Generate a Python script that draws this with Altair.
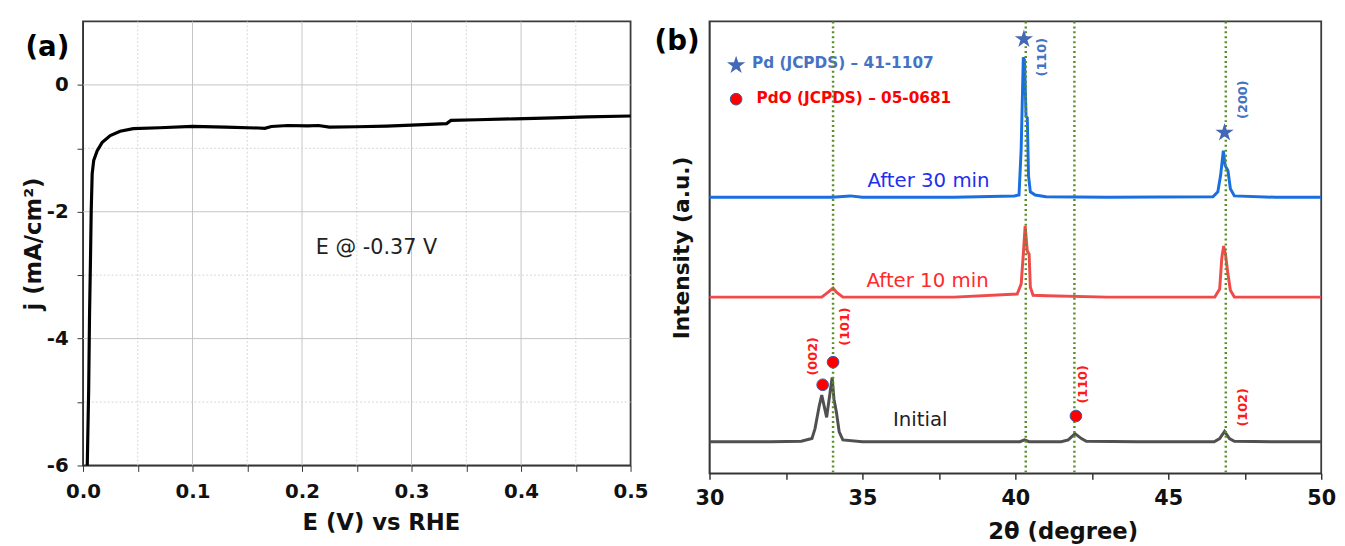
import altair as alt
import pandas as pd

# ---------------- Panel (a): current density vs potential ----------------
E_V = [0.0039, 0.0052, 0.0060, 0.0068, 0.0075, 0.0084, 0.0098, 0.0129, 0.0174, 0.0249,
       0.0339, 0.0459, 0.070, 0.100, 0.130, 0.160, 0.166, 0.172, 0.187, 0.205,
       0.215, 0.225, 0.250, 0.277, 0.300, 0.332, 0.336, 0.360, 0.394, 0.430, 0.460, 0.500]
J_mA = [-6.0, -4.8, -3.6, -2.8, -2.0, -1.4, -1.19, -1.04, -0.91, -0.80,
        -0.73, -0.69, -0.675, -0.655, -0.665, -0.68, -0.685, -0.655, -0.64, -0.645,
        -0.64, -0.665, -0.66, -0.65, -0.635, -0.61, -0.56, -0.55, -0.535, -0.52, -0.505, -0.49]

x_ticks_a = [0.0, 0.05, 0.1, 0.15, 0.2, 0.25, 0.3, 0.35, 0.4, 0.45, 0.5]
x_major_a = [0.1, 0.2, 0.3, 0.4]
x_minor_a = [0.05, 0.15, 0.25, 0.35, 0.45]
y_ticks_a = [-6, -5, -4, -3, -2, -1, 0]
y_major_a = [-4, -2, 0]
y_minor_a = [-5, -3, -1]

# ---------------- Panel (b): XRD patterns ----------------
tt_initial = [30.0, 32.0, 33.0, 33.35, 33.45, 33.59, 33.67, 33.83, 34.01, 34.07, 34.15, 34.24,
              34.36, 35.0, 38.0, 40.15, 40.3, 40.45, 41.5, 41.73, 41.95, 42.16, 42.32, 44.0,
              46.5, 46.68, 46.84, 47.0, 47.16, 48.5, 50.0]
int_initial = [7.0, 7.0, 7.1, 7.7, 9.9, 15.0, 17.3, 12.4, 21.2, 16.4, 13.5, 9.2,
               7.4, 7.0, 7.0, 7.0, 7.4, 7.0, 7.0, 7.4, 8.8, 7.7, 7.1, 7.0,
               7.0, 7.7, 9.3, 7.7, 7.1, 7.0, 7.0]

tt_10 = [30.0, 32.0, 33.67, 33.88, 34.04, 34.15, 34.36, 36.0, 38.0, 40.06, 40.19, 40.26,
         40.32, 40.39, 40.45, 40.49, 40.58, 41.03, 43.0, 46.52, 46.68, 46.75, 46.81, 46.87,
         46.95, 47.03, 47.16, 48.5, 50.0]
int_10 = [39.0, 39.0, 39.0, 40.1, 41.0, 40.1, 39.0, 39.0, 39.0, 39.7, 41.9, 48.5,
          54.7, 49.2, 48.5, 41.2, 39.4, 39.3, 39.0, 39.0, 40.8, 47.7, 50.3, 48.5,
          44.1, 40.5, 39.0, 39.0, 39.0]

tt_30 = [30.0, 32.0, 34.0, 34.6, 35.0, 38.0, 39.96, 40.12, 40.19, 40.26, 40.30, 40.35,
         40.39, 40.43, 40.49, 40.65, 41.0, 43.0, 46.46, 46.62, 46.71, 46.80, 46.86, 46.95,
         47.03, 47.16, 48.5, 50.0]
int_30 = [61.1, 61.1, 61.1, 61.4, 61.1, 61.1, 61.4, 61.6, 71.8, 92.1, 91.4, 79.0,
          78.7, 65.9, 62.3, 61.6, 61.2, 61.1, 61.2, 62.3, 65.9, 71.4, 68.1, 67.0,
          63.0, 61.4, 61.1, 61.1]

x_ticks_b = [30, 32.5, 35, 37.5, 40, 42.5, 45, 47.5, 50]
ref_lines = [34.04, 40.34, 41.93, 46.88]

pd_star_tt = [40.28, 46.84, 30.87]
pd_star_int = [96.1, 75.4, 90.3]
pdo_tt = [33.70, 34.04, 41.98, 30.87]
pdo_int = [19.6, 24.6, 12.7, 82.8]

pd_hkl = ["(110)", "(200)"]
pd_hkl_tt = [40.87, 47.43]
pd_hkl_int = [92.1, 82.7]
pdo_hkl = ["(002)", "(101)", "(110)", "(102)"]
pdo_hkl_tt = [33.40, 34.44, 42.22, 47.43]
pdo_hkl_int = [25.9, 32.5, 19.7, 14.6]

FONT = "DejaVu Sans"
# five-pointed star symbol in Vega's unit box (-1..1)
STAR = ("M0,-1L0.2245,-0.309L0.951,-0.309L0.363,0.118L0.588,0.809L0,0.382"
        "L-0.588,0.809L-0.363,0.118L-0.951,-0.309L-0.2245,-0.309Z")

# ================= Panel (a) encodings =================
xa = alt.X(
    "E:Q",
    scale=alt.Scale(domain=[0, 0.5], nice=False, zero=False),
    axis=alt.Axis(
        title="E (V) vs RHE", values=x_ticks_a, titleX=302,
        labelExpr="abs(datum.value*10 - round(datum.value*10)) < 0.001 ? format(datum.value, '.1f') : ''",
        grid=False, tickSize=6, labelPadding=10, titlePadding=11, labelFlush=False,
        domainColor="#333", tickColor="#333",
        labelFont=FONT, labelFontWeight="bold", labelFontSize=20, labelColor="#111",
        titleFont=FONT, titleFontWeight="bold", titleFontSize=23, titleColor="#111",
    ),
)
ya = alt.Y(
    "j:Q",
    scale=alt.Scale(domain=[-6, 1], nice=False, zero=False),
    axis=alt.Axis(
        title="j (mA/cm\u00b2)", values=y_ticks_a,
        labelExpr="datum.value % 2 == 0 ? (datum.value < 0 ? '-' + (-datum.value) : '' + datum.value) : ''",
        grid=False, tickSize=6, labelPadding=9, titlePadding=1,
        domainColor="#333", tickColor="#333",
        labelFont=FONT, labelFontWeight="bold", labelFontSize=20, labelColor="#111",
        titleFont=FONT, titleFontWeight="bold", titleFontSize=23, titleColor="#111",
    ),
)

# ================= Panel (b) encodings =================
xb = alt.X(
    "tt:Q",
    scale=alt.Scale(domain=[30, 50], nice=False, zero=False),
    axis=alt.Axis(
        title="2\u03b8 (degree)", values=x_ticks_b, titleX=358,
        labelExpr="datum.value % 5 == 0 ? '' + datum.value : ''",
        grid=False, tickSize=6, labelPadding=9, titlePadding=12, labelFlush=False,
        domainColor="#333", tickColor="#333", tickWidth=1.5,
        labelFont=FONT, labelFontWeight="bold", labelFontSize=21, labelColor="#111",
        titleFont=FONT, titleFontWeight="bold", titleFontSize=23, titleColor="#111",
    ),
)
yb = alt.Y(
    "I:Q",
    scale=alt.Scale(domain=[0, 100], nice=False, zero=False),
    axis=alt.Axis(title="Intensity (a.u.)", labels=False, ticks=False, grid=False,
                  titlePadding=16, domainColor="#333",
                  titleFont=FONT, titleFontWeight="bold", titleFontSize=22, titleColor="#111"),
)


def txt(xs, ys, text, xf, yf, xenc, yenc, color, size, weight="normal", align="center", angle=0):
    df = pd.DataFrame({xf: xs, yf: ys, "t": text})
    kw = dict(font=FONT, fontSize=size, fontWeight=weight, color=color,
              align=align, baseline="middle")
    if angle:
        kw["angle"] = angle
    return alt.Chart(df).mark_text(**kw).encode(x=xenc, y=yenc, text="t:N")


# ================= Panel (a) =================
df_a = pd.DataFrame({"E": E_V, "j": J_mA})

grid_xmaj = alt.Chart(pd.DataFrame({"E": x_major_a})).mark_rule(
    color="#c4c4c4", strokeWidth=1).encode(x=xa)
grid_xmin = alt.Chart(pd.DataFrame({"E": x_minor_a})).mark_rule(
    color="#d6d6d6", strokeWidth=1, strokeDash=[2, 2]).encode(x=xa)
grid_ymaj = alt.Chart(pd.DataFrame({"j": y_major_a})).mark_rule(
    color="#c4c4c4", strokeWidth=1).encode(y=ya)
grid_ymin = alt.Chart(pd.DataFrame({"j": y_minor_a})).mark_rule(
    color="#d6d6d6", strokeWidth=1, strokeDash=[2, 2]).encode(y=ya)

line_a = alt.Chart(df_a).mark_line(color="#000000", strokeWidth=3.2).encode(x=xa, y=ya)
note_a = txt([0.268], [-2.57], ["E @ -0.37 V"], "E", "j", xa, ya, "#222222", 21)
label_a = txt([-0.0325], [0.58], ["(a)"], "E", "j", xa, ya, "#000000", 28, "bold")

panel_a = alt.layer(
    grid_xmaj, grid_xmin, grid_ymaj, grid_ymin, line_a, note_a, label_a
).properties(width=555, height=450)

# ================= Panel (b) =================


def series(tt, vals, color):
    return alt.Chart(pd.DataFrame({"tt": tt, "I": vals})).mark_line(
        color=color, strokeWidth=3
    ).encode(x=xb, y=yb)


l_init = series(tt_initial, int_initial, "#505050")
l_10 = series(tt_10, int_10, "#f04a4a")
l_30 = series(tt_30, int_30, "#1a6fe0")

rules = alt.Chart(pd.DataFrame({"tt": ref_lines})).mark_rule(
    color="#5a8f29", strokeWidth=2.5, strokeDash=[2, 3]
).encode(x=xb)

stars = alt.Chart(pd.DataFrame({"tt": pd_star_tt, "I": pd_star_int})).mark_point(
    shape=STAR, filled=True, size=380, color="#4468b8", opacity=1
).encode(x=xb, y=yb)
circles = alt.Chart(pd.DataFrame({"tt": pdo_tt, "I": pdo_int})).mark_point(
    shape="circle", filled=True, size=140, fill="#ff0000", stroke="#3a5aa8",
    strokeWidth=1, opacity=1
).encode(x=xb, y=yb)

hkl_pd = txt(pd_hkl_tt, pd_hkl_int, pd_hkl, "tt", "I", xb, yb, "#4472c4", 13, "bold", angle=270)
hkl_pdo = txt(pdo_hkl_tt, pdo_hkl_int, pdo_hkl, "tt", "I", xb, yb, "#ff1a1a", 13, "bold", angle=270)

leg1 = txt([31.39], [90.7], ["Pd (JCPDS) \u2013 41-1107"], "tt", "I", xb, yb, "#4472c4", 15.5, "bold", "left")
leg2 = txt([31.54], [83.0], ["PdO (JCPDS) \u2013 05-0681"], "tt", "I", xb, yb, "#ff0000", 15.5, "bold", "left")
s30 = txt([37.16], [64.6], ["After 30 min"], "tt", "I", xb, yb, "#1f2ff0", 20)
s10 = txt([37.13], [42.6], ["After 10 min"], "tt", "I", xb, yb, "#ff2a2a", 20)
s0 = txt([36.89], [11.8], ["Initial"], "tt", "I", xb, yb, "#222222", 20)
label_b = txt([28.94], [95.4], ["(b)"], "tt", "I", xb, yb, "#000000", 28, "bold")

panel_b = alt.layer(
    l_init, l_10, l_30, leg1, leg2, s30, s10, s0, rules, stars, circles, hkl_pd, hkl_pdo, label_b
).properties(width=620, height=458)

chart = alt.hconcat(panel_a, panel_b, spacing=4).properties(
    padding={"left": 13, "top": 7, "right": 0, "bottom": 0}
).configure_view(stroke="#3a3a3a", strokeWidth=1.8)

chart.save("out.html", embed_options={"renderer": "svg", "actions": False})
